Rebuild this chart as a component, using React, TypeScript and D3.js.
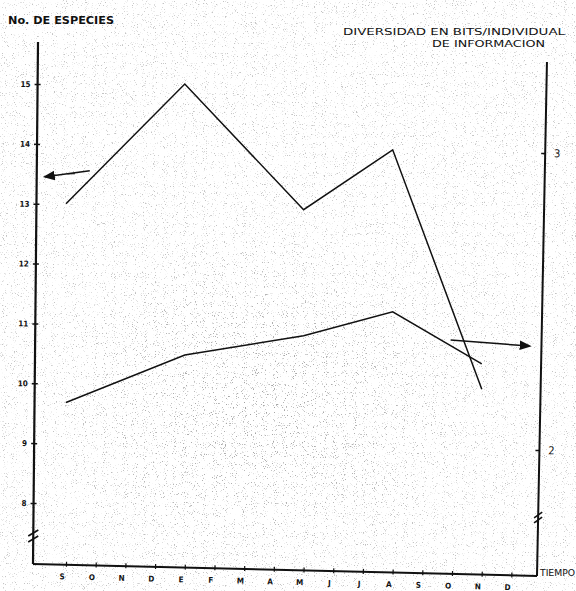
import { useEffect, useRef } from "react";
import * as d3 from "d3";

const width = 576;
const height = 591;

// months along the time axis (Sept -> Dec of the next year)
const months = ["S", "O", "N", "D", "E", "F", "M", "A", "M", "J", "J", "A", "S", "O", "N", "D"];
// sampling months (index into months)
const sampleMonths = [0, 4, 8, 11, 14];
// No. de especies (left axis)
const especies = [13, 15, 12.9, 13.9, 9.9];
// diversidad en bits/individual (right axis)
const diversidad = [2.16, 2.32, 2.385, 2.465, 2.29];
const leftTicks = [8, 9, 10, 11, 12, 13, 14, 15];
const rightTicks = [2, 3];

// layout of the hand drawn frame
const leftX = 33;
const baseY = 564;
const rightX = 537;
const rightBaseY = 576;
const leftTop = 42;
const rightTop = 62;

const font = "'DejaVu Sans Condensed', 'DejaVu Sans', sans-serif";

const x = d3.scaleLinear().domain([0, 15]).range([66, 66 + 15 * 29.7]);
const yL = d3.scaleLinear().domain([8, 15]).range([503, 84]);
const yR = d3.scaleLinear().domain([2, 3]).range([450, 153]);

const App = () => {
  const leftRef = useRef<SVGGElement>(null);
  const rightRef = useRef<SVGGElement>(null);
  const bottomRef = useRef<SVGGElement>(null);

  useEffect(() => {
    const left = d3.select(leftRef.current);
    left.call(d3.axisLeft(yL).tickValues(leftTicks).tickSize(0).tickFormat(d3.format("d")));
    left.select(".domain").remove();
    left.selectAll(".tick line").attr("x1", -3).attr("x2", 3).attr("stroke", "#111").attr("stroke-width", 1.5);
    left
      .selectAll(".tick text")
      .attr("x", -7)
      .attr("fill", "#111")
      .attr("font-family", font)
      .attr("font-weight", "bold")
      .attr("font-size", 8);

    const right = d3.select(rightRef.current);
    right.call(d3.axisRight(yR).tickValues(rightTicks).tickSize(0).tickFormat(d3.format("d")));
    right.select(".domain").remove();
    right.selectAll(".tick line").attr("x1", -4).attr("x2", 0).attr("stroke", "#111").attr("stroke-width", 1.5);
    right
      .selectAll(".tick text")
      .attr("x", 9)
      .attr("fill", "#111")
      .attr("font-family", font)
      .attr("font-size", 11);

    const bottom = d3.select(bottomRef.current);
    bottom.call(
      d3
        .axisBottom(x)
        .tickValues(d3.range(months.length))
        .tickSize(0)
        .tickFormat((i) => months[i as number])
    );
    bottom.select(".domain").remove();
    bottom.selectAll(".tick line").attr("y1", -3).attr("y2", 2).attr("stroke", "#111").attr("stroke-width", 1.2);
    bottom
      .selectAll(".tick text")
      .attr("x", -4)
      .attr("y", 9)
      .attr("fill", "#111")
      .attr("font-family", font)
      .attr("font-weight", "bold")
      .attr("font-size", 8);
  }, []);

  const especiesLine = d3
    .line<number>()
    .x((_, i) => x(sampleMonths[i]))
    .y((d) => yL(d));
  const diversidadLine = d3
    .line<number>()
    .x((_, i) => x(sampleMonths[i]))
    .y((d) => yR(d));

  const bottomAngle = (Math.atan2(rightBaseY - baseY, rightX - leftX) * 180) / Math.PI;

  return (
    <svg width={width} height={height} style={{ position: "absolute", left: 0, top: 0, background: "#fff" }}>
      <defs>
        <filter id="grain" x="0" y="0" width="100%" height="100%">
          <feTurbulence type="fractalNoise" baseFrequency="0.9" numOctaves="2" seed="7" />
          <feColorMatrix
            type="matrix"
            values="0 0 0 0 0.3  0 0 0 0 0.3  0 0 0 0 0.3  7 0 0 0 -4.4"
          />
        </filter>
        <radialGradient id="patch" cx="0.5" cy="0.55" r="0.5">
          <stop offset="0" stopColor="#fff" stopOpacity="1" />
          <stop offset="1" stopColor="#fff" stopOpacity="0" />
        </radialGradient>
        <mask id="patchMask">
          <rect x={40} y={200} width={440} height={370} fill="url(#patch)" />
        </mask>
        <marker id="head" viewBox="0 0 10 10" refX="8" refY="5" markerWidth="8" markerHeight="8" orient="auto">
          <path d="M0,1 L10,5 L0,9 Z" fill="#111" />
        </marker>
      </defs>

      <rect width={width} height={height} fill="#fff" />
      <rect width={width} height={height} filter="url(#grain)" opacity={0.55} />
      <rect width={width} height={height} filter="url(#grain)" opacity={0.8} mask="url(#patchMask)" />

      {/* titles */}
      <text x={8} y={24} fontFamily={font} fontWeight="bold" fontSize={10} textLength={106} lengthAdjust="spacingAndGlyphs" fill="#111">
        No. DE ESPECIES
      </text>
      <text x={343} y={35} fontFamily={font} fontSize={9.5} textLength={222} lengthAdjust="spacingAndGlyphs" fill="#111">
        DIVERSIDAD EN BITS/INDIVIDUAL
      </text>
      <text x={432} y={47} fontFamily={font} fontSize={9.5} textLength={113} lengthAdjust="spacingAndGlyphs" fill="#111">
        DE INFORMACION
      </text>

      {/* left axis */}
      <g transform={`rotate(0.55 ${leftX} ${baseY})`}>
        <line x1={leftX} x2={leftX} y1={leftTop} y2={baseY} stroke="#111" strokeWidth={2.2} />
        <g ref={leftRef} transform={`translate(${leftX},0)`} />
        <path d={`M${leftX - 5},${baseY - 28} l10,-6 M${leftX - 5},${baseY - 22} l10,-6`} stroke="#111" strokeWidth={1.6} fill="none" />
      </g>

      {/* right axis */}
      <g transform={`rotate(1.11 ${rightX} ${rightBaseY})`}>
        <line x1={rightX} x2={rightX} y1={rightTop} y2={rightBaseY} stroke="#111" strokeWidth={2} />
        <g ref={rightRef} transform={`translate(${rightX},0)`} />
        <path d={`M${rightX - 4},${rightBaseY - 58} l8,-6 M${rightX - 4},${rightBaseY - 53} l8,-6`} stroke="#111" strokeWidth={1.6} fill="none" />
      </g>

      {/* time axis */}
      <g transform={`rotate(${bottomAngle} ${leftX} ${baseY})`}>
        <line x1={leftX} x2={leftX + Math.hypot(rightX - leftX, rightBaseY - baseY)} y1={baseY} y2={baseY} stroke="#111" strokeWidth={2} />
        <g ref={bottomRef} transform={`translate(0,${baseY})`} />
      </g>
      <text x={rightX + 3} y={rightBaseY} fontFamily={font} fontSize={8} textLength={35} lengthAdjust="spacingAndGlyphs" fill="#111">
        TIEMPO
      </text>

      {/* data */}
      <path d={especiesLine(especies) ?? ""} fill="none" stroke="#111" strokeWidth={1.5} strokeLinejoin="miter" />
      <path d={diversidadLine(diversidad) ?? ""} fill="none" stroke="#111" strokeWidth={1.5} strokeLinejoin="miter" />

      {/* arrows tying each line to its axis */}
      <line x1={x(0.8)} y1={yL(13.55)} x2={x(-0.7)} y2={yL(13.45)} stroke="#111" strokeWidth={1.5} markerEnd="url(#head)" />
      <line x1={x(0.05)} y1={yL(13.5)} x2={x(0.3)} y2={yL(13.5)} stroke="#111" strokeWidth={1} />
      <line x1={x(12.95)} y1={yR(2.37)} x2={x(15.6)} y2={yR(2.35)} stroke="#111" strokeWidth={1.5} markerEnd="url(#head)" />
    </svg>
  );
};

export default App;
